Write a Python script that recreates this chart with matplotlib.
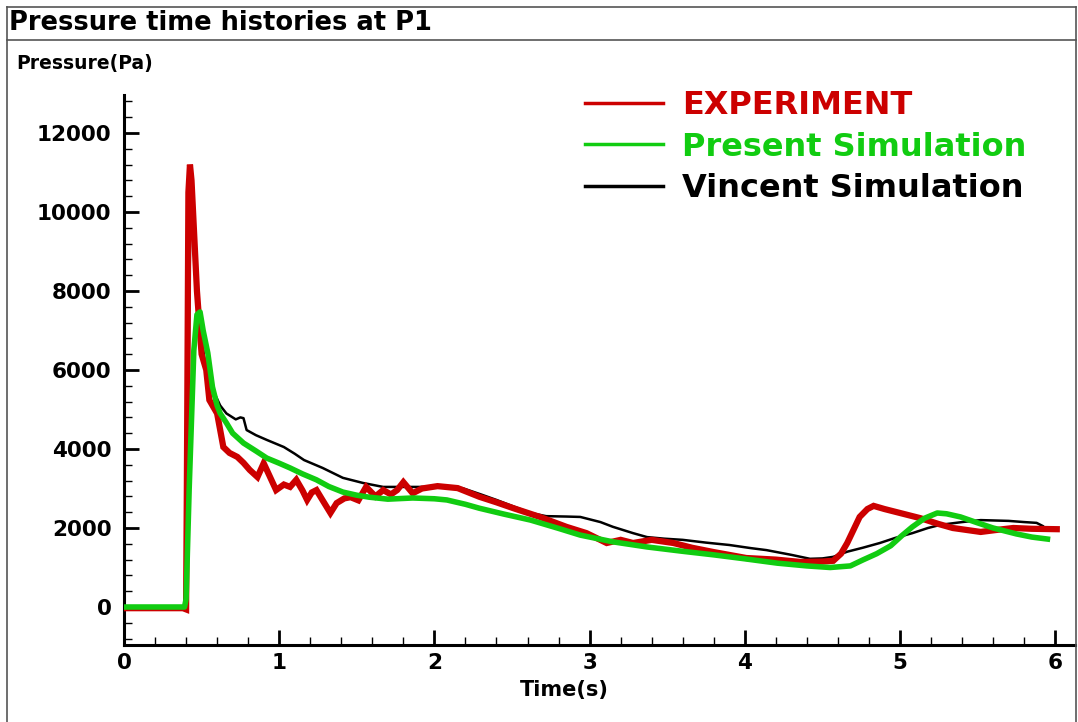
import matplotlib
matplotlib.use("Agg")
import matplotlib.pyplot as plt
from matplotlib.lines import Line2D
from matplotlib.ticker import MultipleLocator

# ---------------- data ----------------
exp_t = [0.00, 0.38, 0.40, 0.405, 0.415, 0.425, 0.435, 0.47, 0.50, 0.53, 0.55, 0.60, 0.64,
         0.68, 0.73, 0.77, 0.81, 0.86, 0.90, 0.94, 0.98, 1.03, 1.07, 1.11, 1.15, 1.18,
         1.21, 1.24, 1.28, 1.33, 1.37, 1.42, 1.46, 1.51, 1.56, 1.62, 1.67, 1.72, 1.76,
         1.80, 1.86, 1.92, 2.02, 2.15, 2.29, 2.40, 2.51, 2.68, 2.85, 2.98, 3.11, 3.20,
         3.28, 3.40, 3.54, 3.66, 3.80, 4.01, 4.20, 4.36, 4.50, 4.57, 4.62, 4.66, 4.70,
         4.74, 4.79, 4.83, 4.90, 5.00, 5.13, 5.25, 5.34, 5.43, 5.52, 5.62, 5.73, 5.85, 6.01]
exp_p = [-30, -30, -60, 3000, 10500, 11200, 10800, 8000, 6400, 6000, 5240, 4900, 4050,
         3900, 3800, 3650, 3470, 3290, 3640, 3300, 2960, 3100, 3040, 3220, 2950, 2710,
         2900, 2960, 2700, 2380, 2630, 2750, 2780, 2700, 3040, 2800, 2960, 2850, 2960,
         3160, 2880, 3000, 3060, 3010, 2790, 2650, 2500, 2280, 2030, 1870, 1620, 1700,
         1620, 1700, 1620, 1500, 1390, 1240, 1200, 1140, 1150, 1170, 1350, 1620, 1950,
         2280, 2480, 2560, 2480, 2380, 2250, 2100, 2000, 1950, 1900, 1950, 2000, 1980, 1970]

pres_t = [0.00, 0.39, 0.40, 0.42, 0.45, 0.47, 0.49, 0.51, 0.54, 0.57, 0.60, 0.62, 0.66,
          0.70, 0.77, 0.85, 0.92, 1.00, 1.07, 1.15, 1.24, 1.32, 1.41, 1.50, 1.58, 1.70,
          1.86, 2.00, 2.08, 2.20, 2.29, 2.45, 2.62, 2.80, 2.94, 3.15, 3.37, 3.60, 3.80,
          4.00, 4.21, 4.40, 4.55, 4.68, 4.76, 4.85, 4.94, 5.01, 5.08, 5.16, 5.24, 5.30,
          5.39, 5.50, 5.60, 5.75, 5.85, 5.95]
pres_p = [0, 0, 200, 3000, 6500, 7400, 7470, 7000, 6430, 5570, 5100, 4900, 4660,
          4400, 4150, 3950, 3770, 3640, 3520, 3370, 3220, 3050, 2910, 2830, 2780, 2730,
          2760, 2740, 2710, 2600, 2500, 2350, 2200, 1990, 1820, 1650, 1520, 1410, 1320,
          1220, 1110, 1040, 1000, 1040, 1190, 1350, 1550, 1800, 2030, 2250, 2380, 2360,
          2280, 2130, 2000, 1850, 1770, 1720]

vin_t = [0.00, 0.40, 0.41, 0.43, 0.45, 0.48, 0.52, 0.56, 0.62, 0.66, 0.72, 0.75, 0.77,
         0.79, 0.85, 0.92, 1.03, 1.10, 1.16, 1.28, 1.41, 1.54, 1.67, 1.80, 1.97, 2.10,
         2.18, 2.30, 2.40, 2.52, 2.62, 2.72, 2.85, 2.94, 3.07, 3.15, 3.28, 3.37, 3.48,
         3.60, 3.75, 3.90, 4.04, 4.14, 4.30, 4.42, 4.50, 4.57, 4.66, 4.76, 4.87, 4.97,
         5.08, 5.18, 5.26, 5.40, 5.52, 5.70, 5.80, 5.88, 5.92]
vin_p = [0, 0, 4000, 10800, 9500, 7500, 6200, 5600, 5100, 4900, 4750, 4800, 4780,
         4480, 4350, 4230, 4050, 3880, 3720, 3520, 3270, 3140, 3040, 3040, 3040, 3020,
         3010, 2850, 2710, 2530, 2380, 2300, 2290, 2280, 2150, 2030, 1870, 1770, 1730,
         1700, 1630, 1570, 1490, 1440, 1320, 1220, 1230, 1270, 1400, 1500, 1620, 1750,
         1870, 2000, 2080, 2150, 2200, 2180, 2150, 2130, 2050]

series_labels = ["EXPERIMENT", "Present Simulation", "Vincent Simulation"]
x_ticks = [0, 1, 2, 3, 4, 5, 6]
y_ticks = [0, 2000, 4000, 6000, 8000, 10000, 12000]

RED = "#cc0000"
GREEN = "#11cc11"
BLACK = "#000000"
FONT = "DejaVu Sans"

# ---------------- figure ----------------
fig = plt.figure(figsize=(10.78, 7.22), dpi=100)
fig.patch.set_facecolor("white")

ax = fig.add_axes([124 / 1078, 1 - 645 / 722, (1075 - 124) / 1078, (645 - 95) / 722])
ax.set_facecolor("white")

ax.plot(vin_t, vin_p, color=BLACK, lw=1.8, zorder=3, solid_joinstyle="round")
ax.plot(exp_t, exp_p, color=RED, lw=4.5, zorder=4, solid_joinstyle="miter")
ax.plot(pres_t, pres_p, color=GREEN, lw=4.0, zorder=5, solid_joinstyle="round")

ax.set_xlim(0, (1075 - 124) / 155.2)
ax.set_ylim(-(645 - 607) / 0.0395, (607 - 95) / 0.0395)

for s in ["top", "right"]:
    ax.spines[s].set_visible(False)
for s in ["left", "bottom"]:
    ax.spines[s].set_linewidth(2.2)
    ax.spines[s].set_color("black")

ax.set_xticks(x_ticks)
ax.set_yticks(y_ticks)
ax.xaxis.set_minor_locator(MultipleLocator(0.2))
ax.yaxis.set_minor_locator(MultipleLocator(400))
ax.tick_params(which="major", direction="in", length=11, width=2.0, color="black")
ax.tick_params(which="minor", direction="in", length=6, width=1.0, color="black")
ax.tick_params(axis="x", which="major", pad=6)
ax.tick_params(axis="y", which="major", pad=9)
for lab in ax.get_xticklabels() + ax.get_yticklabels():
    lab.set_fontfamily(FONT)
    lab.set_fontweight("bold")
    lab.set_fontsize(15.5)

ax.set_xlabel("Time(s)", fontfamily=FONT, fontweight="bold", fontsize=15)
ax.xaxis.set_label_coords((564 - 124) / (1075 - 124), -(690 - 645) / (645 - 95))
ax.xaxis.label.set_verticalalignment("center")

# legend
handles = [Line2D([], [], color=RED, lw=2.5),
           Line2D([], [], color=GREEN, lw=2.5),
           Line2D([], [], color=BLACK, lw=2.5)]
leg = ax.legend(handles, series_labels, loc="upper left",
                bbox_to_anchor=(585 / 1078, 1 - 90 / 722), bbox_transform=fig.transFigure,
                frameon=False, prop={"family": FONT, "weight": "bold", "size": 23},
                handlelength=2.45, handletextpad=0.6, labelspacing=0.33,
                borderpad=0, borderaxespad=0,
                labelcolor=[RED, GREEN, BLACK])

# titles / labels
fig.text(9 / 1078, 1 - 23 / 722, "Pressure time histories at P1", fontfamily=FONT,
         fontweight="bold", fontsize=18.5, va="center", ha="left")
fig.text(16 / 1078, 1 - 64 / 722, "Pressure(Pa)", fontfamily=FONT,
         fontweight="bold", fontsize=13.5, va="center", ha="left")

# frame lines
frame_kw = dict(color="#555555", lw=1.2, transform=fig.transFigure)
fig.add_artist(Line2D([7 / 1078, 7 / 1078], [0, 1 - 7 / 722], **frame_kw))
fig.add_artist(Line2D([7 / 1078, 1076 / 1078], [1 - 7 / 722, 1 - 7 / 722], **frame_kw))
fig.add_artist(Line2D([7 / 1078, 1076 / 1078], [1 - 40 / 722, 1 - 40 / 722], **frame_kw))
fig.add_artist(Line2D([1076 / 1078, 1076 / 1078], [0, 1 - 7 / 722], **frame_kw))

fig.savefig("out.png", dpi=100)
